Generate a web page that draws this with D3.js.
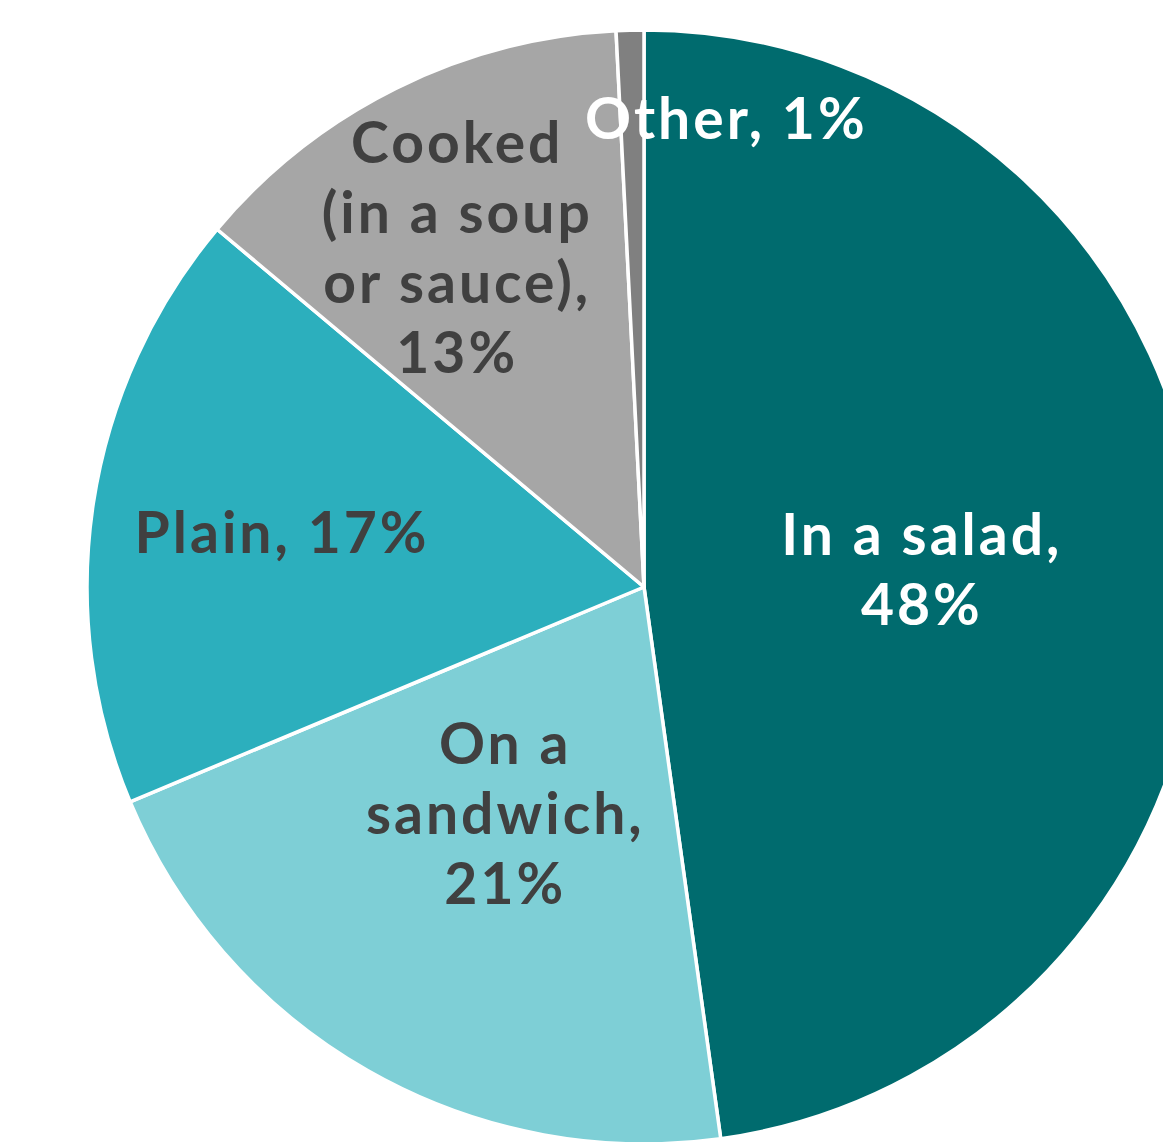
<!DOCTYPE html>
<html>
<head>
<meta charset="utf-8">
<script src="https://cdn.jsdelivr.net/npm/d3@7"></script>
<style>
  html, body { margin: 0; padding: 0; background: #fff; }
  svg { display: block; }
</style>
</head>
<body>
<div class="chart"></div>
<script>
// slice data, clockwise from 12 o'clock
var categories = ["In a salad", "On a sandwich", "Plain", "Cooked (in a soup or sauce)", "Other"];
var shares = [47.8, 20.9, 17.4, 13.1, 0.8];
var pctLabels = ["48%", "21%", "17%", "13%", "1%"];
// label text split into lines
var labelLines = [
    ["In a salad,", "48%"],
    ["On a", "sandwich,", "21%"],
    ["Plain, 17%"],
    ["Cooked", "(in a soup", "or sauce),", "13%"],
    ["Other, 1%"]
];
var colors = ["#006b6e", "#7ecfd6", "#2cafbd", "#a6a6a6", "#808080"];
var textColors = ["#ffffff", "#404040", "#404040", "#404040", "#ffffff"];

var width = 1163, height = 1142;
var cx = 644, cy = 587, radius = 557;

// where each label sits, as fraction of radius, plus a small nudge
var labelRadius = [0.50, 0.47, 0.65, 0.68, 0.84];
var labelNudge = [[0, 2], [-9, 0], [-4, 0], [-18, 0], [94, 0]];

var svg = d3.select(".chart").append("svg")
    .attr("width", width)
    .attr("height", height)
    .append("g")
    .attr("transform", "translate(" + cx + "," + cy + ")");

var data = categories.map(function (c, i) {
    return { category: c, value: shares[i], idx: i };
});

var pie = d3.pie().sort(null).value(function (d) { return d.value; });
var arc = d3.arc().innerRadius(0).outerRadius(radius);
var arcs = pie(data);

svg.selectAll(".slice")
    .data(arcs)
    .enter().append("path")
    .attr("class", "slice")
    .attr("d", arc)
    .attr("fill", function (d) { return colors[d.data.idx]; })
    .attr("stroke", "#ffffff")
    .attr("stroke-width", 3.5)
    .attr("stroke-linejoin", "round");

var lineH = 70;
var labels = svg.selectAll(".lbl")
    .data(arcs)
    .enter().append("text")
    .attr("class", "lbl")
    .attr("text-anchor", "middle")
    .style("font-family", "Lato, 'Open Sans', sans-serif")
    .style("font-weight", "bold")
    .style("font-size", "57px")
    .style("letter-spacing", "3px")
    .attr("fill", function (d) { return textColors[d.data.idx]; })
    .attr("transform", function (d) {
        var i = d.data.idx;
        var a = (d.startAngle + d.endAngle) / 2;
        var r = radius * labelRadius[i];
        var x = Math.sin(a) * r + labelNudge[i][0];
        var y = -Math.cos(a) * r + labelNudge[i][1];
        return "translate(" + x + "," + y + ")";
    });

labels.each(function (d) {
    var lines = labelLines[d.data.idx];
    var t = d3.select(this);
    var y0 = -(lines.length - 1) * lineH / 2 + 20;
    lines.forEach(function (ln, k) {
        t.append("tspan")
            .attr("x", 0)
            .attr("y", y0 + k * lineH)
            .text(ln);
    });
});
</script>
</body>
</html>
